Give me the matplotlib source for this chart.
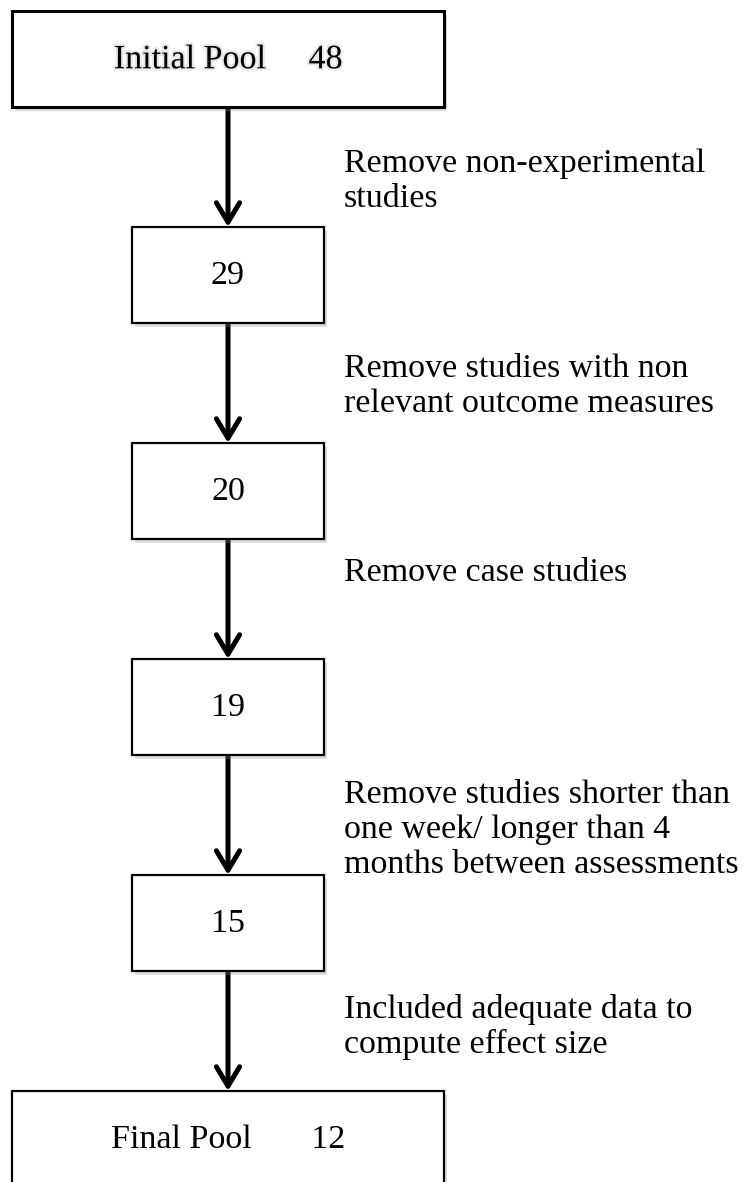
import matplotlib.pyplot as plt
import matplotlib.patheffects as pe
from matplotlib.patches import Rectangle

# flow stages (count of studies left at each step)
counts = [48, 29, 20, 19, 15, 12]
box_names = ["Initial Pool", "", "", "", "", "Final Pool"]
name_gaps = [5, 0, 0, 0, 0, 7]

# reason written beside each arrow
notes = [
    ["Remove non-experimental", "studies"],
    ["Remove studies with non", "relevant outcome measures"],
    ["Remove case studies"],
    ["Remove studies shorter than", "one week/ longer than 4", "months between assessments"],
    ["Included adequate data to", "compute effect size"],
]
note_drop = [65, 54, 42, 48, 47]  # first baseline below the box above, px

W, H = 755, 1182
plt.rcParams['font.family'] = ['Liberation Serif', 'DejaVu Serif']
fs = 24.5

fig = plt.figure(figsize=(W / 100, H / 100), dpi=100)
ax = fig.add_axes([0, 0, 1, 1])
ax.set_xlim(0, W)
ax.set_ylim(H, 0)
ax.axis('off')

cx = 228
step = 216
box_h = 96
top0 = 11
wide_w, narrow_w = 432, 192
text_x = 344
pitch = 35

shadow = [pe.SimplePatchShadow(offset=(2, -3), shadow_rgbFace='0.55', alpha=0.3), pe.Normal()]

for i, c in enumerate(counts):
    top = top0 + i * step
    w = wide_w if box_names[i] else narrow_w
    lw = 2.2 if i == 0 else 1.6
    box = Rectangle((cx - w / 2, top), w, box_h, facecolor='white',
                    edgecolor='black', lw=lw, zorder=2)
    box.set_path_effects(shadow)
    ax.add_patch(box)

    label = box_names[i] + ' ' * name_gaps[i] + str(c) if box_names[i] else str(c)
    t = ax.text(cx, top + box_h / 2 + 1, label, ha='center', va='center',
                fontsize=fs, zorder=3)
    if i == 0:
        # soft glow behind the first label
        t.set_path_effects([pe.Stroke(linewidth=3, foreground='0.85', alpha=0.6), pe.Normal()])

# arrows + notes
for i, lines in enumerate(notes):
    y0 = top0 + i * step + box_h
    y1 = top0 + (i + 1) * step
    ax.annotate('', xy=(cx, y1), xytext=(cx, y0),
                arrowprops=dict(arrowstyle='->,head_length=0.7,head_width=0.42',
                                lw=3.6, color='black', shrinkA=0, shrinkB=0,
                                mutation_scale=20),
                zorder=1)
    for k, ln in enumerate(lines):
        ax.text(text_x, y0 + note_drop[i] + k * pitch, ln, ha='left',
                va='baseline', fontsize=fs)

fig.savefig('out.png', dpi=100)
